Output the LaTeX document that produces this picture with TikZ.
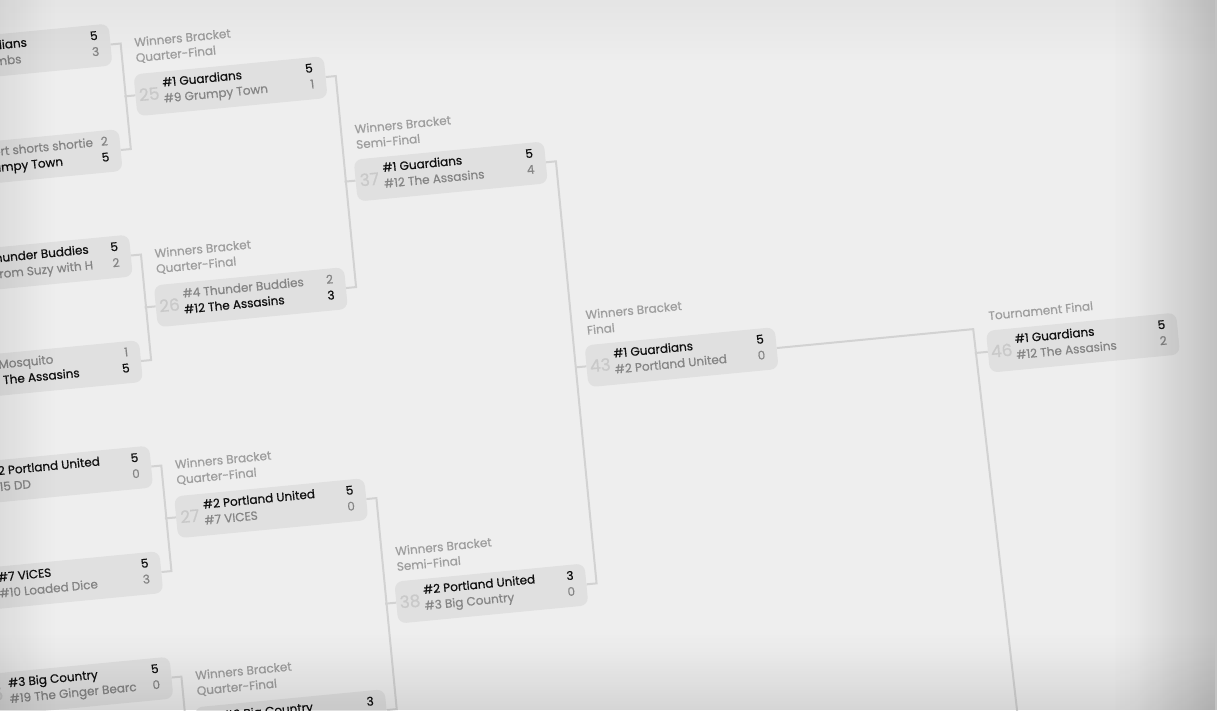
\documentclass[tikz,border=0pt]{standalone}
\usepackage{fontspec}
\setmainfont{Poppins}[FakeBold=0.6]
\usepackage{xcolor}
\usepackage{tikz}
\usetikzlibrary{calc,fadings}

\definecolor{bgmid}{HTML}{EEEEEE}
\definecolor{boxfill}{HTML}{E0E0E0}
\definecolor{linegray}{HTML}{D2D2D2}
\definecolor{wintext}{HTML}{111111}
\definecolor{losetext}{HTML}{858585}
\definecolor{stagegray}{HTML}{9E9E9E}
\definecolor{numgray}{HTML}{C9C9C9}

% soft shadow towards the edges of the photo
\begin{tikzfadingfrompicture}[name=edgeright]
  \shade[left color=transparent!100, right color=transparent!88] (0,0) rectangle (0.5,2);
  \shade[left color=transparent!88, right color=transparent!0] (0.5,0) rectangle (2,2);
\end{tikzfadingfrompicture}
\begin{tikzfadingfrompicture}[name=edgeleft]
  \shade[left color=transparent!0, right color=transparent!85] (0,0) rectangle (1.5,2);
  \shade[left color=transparent!85, right color=transparent!100] (1.5,0) rectangle (2,2);
\end{tikzfadingfrompicture}
\begin{tikzfadingfrompicture}[name=edgedown]
  \shade[top color=transparent!100, bottom color=transparent!85] (0,1.5) rectangle (2,2);
  \shade[top color=transparent!85, bottom color=transparent!0] (0,0) rectangle (2,1.5);
\end{tikzfadingfrompicture}
\begin{tikzfadingfrompicture}[name=edgeup]
  \shade[top color=transparent!0, bottom color=transparent!100] (0,0) rectangle (2,2);
\end{tikzfadingfrompicture}

% one match: name, centre, number, style/team/score of both rows
\newcommand{\match}[9]{%
  \node[matchbox] (#1) at (#2) {};
  \node[matchno] (#1no) at ([xshift=14]#1.west) {#3};
  \node[#4, anchor=base west] (#1t1) at ([shift={(28,6)}]#1.west) {#5};
  \node[#4, anchor=base east] (#1s1) at ([shift={(-12,6)}]#1.east) {#6};
  \node[#7, anchor=base west] (#1t2) at ([shift={(28,-10)}]#1.west) {#8};
  \node[#7, anchor=base east] (#1s2) at ([shift={(-12,-10)}]#1.east) {#9};
}

\begin{document}
\begin{tikzpicture}[
    x=1pt, y=1pt,
    matchbox/.style={rectangle, rounded corners=8pt, fill=boxfill, minimum width=191pt, minimum height=42pt, inner sep=0pt},
    matchno/.style={font=\fontsize{17}{17}\selectfont, text=numgray, inner sep=0pt},
    winner/.style={font=\fontsize{12}{14}\selectfont, text=wintext, inner sep=0pt},
    loser/.style={font=\fontsize{12}{14}\selectfont, text=losetext, inner sep=0pt},
    stagelabel/.style={font=\fontsize{12}{15.5}\selectfont, text=stagegray, align=left, inner sep=0pt, anchor=south west},
    conn/.style={draw=linegray, line width=2pt},
    shadow/.style={fill=black, fit fading=true},
]

\useasboundingbox (-600,-355) rectangle (617,355);
\clip (-600,-355) rectangle (617,355);
\fill[bgmid] (-600,-355) rectangle (617,355);

\begin{scope}[transform canvas={rotate=5.5}]

% Round of 16 (cut off at the left edge)
\match{m9}{-553,356}{9}{winner}{\#1 Guardians}{5}{loser}{\#16 Crumbs}{3}
\match{m10}{-553,250}{10}{loser}{\#8 Short shorts shortie}{2}{winner}{\#9 Grumpy Town}{5}
\match{m11}{-553,144}{11}{winner}{\#4 Thunder Buddies}{5}{loser}{\#13 From Suzy with H}{2}
\match{m12}{-553,38}{12}{loser}{\#5 Mosquito}{1}{winner}{\#12 The Assasins}{5}
\match{m13}{-553,-68}{13}{winner}{\#2 Portland United}{5}{loser}{\#15 DD}{0}
\match{m14}{-553,-174}{14}{winner}{\#7 VICES}{5}{loser}{\#10 Loaded Dice}{3}
\match{m15}{-553,-280}{15}{winner}{\#3 Big Country}{5}{loser}{\#19 The Ginger Bearc}{0}

% Quarter-finals
\match{m25}{-342,303}{25}{winner}{\#1 Guardians}{5}{loser}{\#9 Grumpy Town}{1}
\match{m26}{-342,91}{26}{loser}{\#4 Thunder Buddies}{2}{winner}{\#12 The Assasins}{3}
\match{m27}{-342,-121}{27}{winner}{\#2 Portland United}{5}{loser}{\#7 VICES}{0}
\match{m28}{-342,-333}{28}{winner}{\#3 Big Country}{3}{loser}{}{}

% Semi-finals
\match{m37}{-131,197}{37}{winner}{\#1 Guardians}{5}{loser}{\#12 The Assasins}{4}
\match{m38}{-131,-227}{38}{winner}{\#2 Portland United}{3}{loser}{\#3 Big Country}{0}

% Finals
\match{m43}{81,-10}{43}{winner}{\#1 Guardians}{5}{loser}{\#2 Portland United}{0}
\match{m46}{482,-34}{46}{winner}{\#1 Guardians}{5}{loser}{\#12 The Assasins}{2}

% Stage labels
\node[stagelabel] (l25) at ([shift={(4,10)}]m25.north west) {Winners Bracket\\Quarter-Final};
\node[stagelabel] (l26) at ([shift={(4,10)}]m26.north west) {Winners Bracket\\Quarter-Final};
\node[stagelabel] (l27) at ([shift={(4,10)}]m27.north west) {Winners Bracket\\Quarter-Final};
\node[stagelabel] (l28) at ([shift={(4,10)}]m28.north west) {Winners Bracket\\Quarter-Final};
\node[stagelabel] (l37) at ([shift={(4,10)}]m37.north west) {Winners Bracket\\Semi-Final};
\node[stagelabel] (l38) at ([shift={(4,10)}]m38.north west) {Winners Bracket\\Semi-Final};
\node[stagelabel] (l43) at ([shift={(4,10)}]m43.north west) {Winners Bracket\\Final};
\node[stagelabel] (l46) at ([shift={(4,10)}]m46.north west) {Tournament Final};

% Connectors
\coordinate (q16) at (-447.5,-440);
\coordinate (lftop) at (374,-10);
\coordinate (lf) at (382.3,-460);

\draw[conn] (m9.east) -- ++(10,0) |- (m10.east);
\draw[conn] (m11.east) -- ++(10,0) |- (m12.east);
\draw[conn] (m13.east) -- ++(10,0) |- (m14.east);
\draw[conn] (m15.east) -| (q16);
\draw[conn] (m25.west) -- ++(-11,0);
\draw[conn] (m26.west) -- ++(-11,0);
\draw[conn] (m27.west) -- ++(-11,0);
\draw[conn] (m28.west) -- ++(-11,0);

\draw[conn] (m25.east) -- ++(10,0) |- (m26.east);
\draw[conn] (m27.east) -- ++(10,0) |- (m28.east);
\draw[conn] (m37.west) -- ++(-11,0);
\draw[conn] (m38.west) -- ++(-11,0);

\draw[conn] (m37.east) -- ++(10,0) |- (m38.east);
\draw[conn] (m43.west) -- ++(-11,0);

\draw[conn] (m43.east) -- (lftop) -- (lf);
\draw[conn] (m46.west) -- ++(-13,0);

\end{scope}

% Edge shadow of the photo
\fill[shadow, fill opacity=0.20, path fading=edgeright] (515,-355) rectangle (617,355);
\fill[shadow, fill opacity=0.11, path fading=edgedown] (-600,-355) rectangle (617,-280);
\fill[shadow, fill opacity=0.08, path fading=edgeleft] (-600,-355) rectangle (-545,355);
\fill[shadow, fill opacity=0.04, path fading=edgeup] (-600,295) rectangle (617,355);

\end{tikzpicture}
\end{document}
